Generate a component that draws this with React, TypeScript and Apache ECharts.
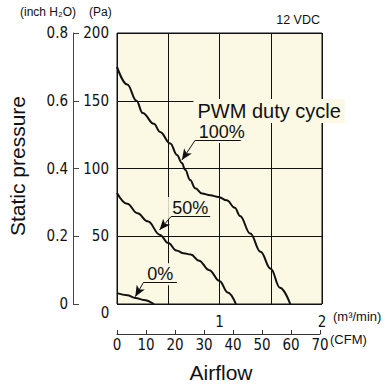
import React, { useEffect, useRef } from "react";
import * as echarts from "echarts";

// Airflow in m³/min, static pressure in Pa
const duty100: [number, number][] = [
  [0, 175], [0.1, 162], [0.19, 150], [0.25, 141], [0.36, 133], [0.42, 127],
  [0.52, 118.5], [0.585, 110], [0.633, 104], [0.665, 99], [0.714, 91.5],
  [0.763, 85.5], [0.83, 81.5], [0.91, 80.3], [0.99, 79], [1.07, 76.5],
  [1.15, 71], [1.2, 65], [1.3, 52], [1.4, 38.5], [1.5, 26], [1.59, 12], [1.69, 0],
];
const duty50: [number, number][] = [
  [0, 82], [0.1, 74], [0.2, 67], [0.3, 61], [0.42, 51], [0.5, 45], [0.58, 39.5],
  [0.65, 37.5], [0.72, 36.5], [0.8, 32], [0.9, 25], [1.0, 17], [1.08, 8.5], [1.16, 0],
];
const duty0: [number, number][] = [
  [0, 8], [0.1, 6.5], [0.18, 4.5], [0.26, 3], [0.36, 0],
];

const paTicks = { min: 0, max: 200, interval: 50 };
const inchTicks = { min: 0, max: 0.8, interval: 0.2 };
const m3Ticks = { min: 0, max: 2, interval: 0.5 };
const cfmTicks = { min: 0, max: 70, interval: 10 };
const m3Labels = [1, 2];

const labels = {
  pwm: "PWM duty cycle",
  d100: "100%",
  d50: "50%",
  d0: "0%",
};

const BG = "#FBF8E4";
const INK = "#111111";
const NARROW = '"Liberation Sans Narrow", "DejaVu Sans Condensed", "Roboto Condensed", sans-serif';
const SANS = '"Liberation Sans", Arial, Helvetica, sans-serif';
const TICK = 15;

export default function App() {
  const ref = useRef<HTMLDivElement>(null);
  useEffect(() => {
    if (!ref.current) return;
    const chart = echarts.init(ref.current, undefined, { renderer: "svg" });
    const labelBox = (size: number) => ({
      show: true,
      color: INK,
      fontFamily: SANS,
      fontSize: size,
      lineHeight: size,
      backgroundColor: BG,
      padding: [3, 4, 1, 4],
    });
    const option: any = {
      animation: false,
      grid: [
        {
          left: 117, top: 33, width: 205, height: 271,
          show: true, backgroundColor: BG, borderColor: INK, borderWidth: 1,
        },
        { left: 117, top: 333, width: 203, height: 1, show: false },
      ],
      xAxis: [
        {
          gridIndex: 0, type: "value", ...m3Ticks,
          axisLine: { show: false }, axisTick: { show: false },
          splitLine: { show: true, lineStyle: { color: INK, width: 1 } },
          axisLabel: {
            formatter: (v: number) => (m3Labels.includes(v) ? String(v) : ""),
            margin: 10, fontSize: TICK, fontFamily: NARROW, color: INK,
          },
        },
        {
          gridIndex: 1, type: "value", ...cfmTicks,
          axisLine: { show: true, lineStyle: { color: "#333", width: 1 } },
          axisTick: { show: true, inside: true, length: 4, lineStyle: { color: "#333" } },
          splitLine: { show: false },
          axisLabel: { margin: 3, fontSize: TICK, fontFamily: NARROW, color: INK },
        },
      ],
      yAxis: [
        {
          gridIndex: 0, type: "value", ...paTicks,
          axisLine: { show: false }, axisTick: { show: false },
          splitLine: { show: true, lineStyle: { color: INK, width: 1 } },
          axisLabel: {
            formatter: (v: number) => (v === 0 ? "" : String(v)),
            margin: 8, fontSize: TICK, fontFamily: NARROW, color: INK,
          },
        },
        {
          gridIndex: 0, type: "value", position: "left", offset: 44, ...inchTicks,
          axisLine: { show: true, lineStyle: { color: "#444", width: 1 } },
          axisTick: { show: true, inside: true, length: 6, lineStyle: { color: "#444" } },
          splitLine: { show: false },
          axisLabel: {
            formatter: (v: number) => (v === 0 ? "0" : v.toFixed(1)),
            margin: 5, fontSize: TICK, fontFamily: NARROW, color: INK,
          },
        },
        { gridIndex: 1, type: "value", show: false },
      ],
      series: [
        {
          type: "line", data: duty100, xAxisIndex: 0, yAxisIndex: 0,
          showSymbol: false, symbol: "none", smooth: 0.4, smoothMonotone: "x",
          lineStyle: { color: INK, width: 2 }, silent: true, z: 3,
        },
        {
          type: "line", data: duty50, xAxisIndex: 0, yAxisIndex: 0,
          showSymbol: false, symbol: "none", smooth: 0.4, smoothMonotone: "x",
          lineStyle: { color: INK, width: 2 }, silent: true, z: 3,
        },
        {
          type: "line", data: duty0, xAxisIndex: 0, yAxisIndex: 0,
          showSymbol: false, symbol: "none", smooth: 0.4, smoothMonotone: "x",
          lineStyle: { color: INK, width: 2 }, silent: true, z: 3,
        },
        {
          type: "line", data: [], xAxisIndex: 0, yAxisIndex: 0, silent: true,
          markPoint: {
            silent: true, z: 4,
            symbol: "circle", symbolSize: 0,
            data: [
              { coord: [0.746, 142.5], label: { ...labelBox(20), position: "right", distance: 0, formatter: labels.pwm } },
              { coord: [1.023, 127.0], label: { ...labelBox(18), position: "inside", formatter: labels.d100 } },
              { coord: [0.714, 70.8], label: { ...labelBox(18), position: "inside", formatter: labels.d50 } },
              { coord: [0.422, 22.0], label: { ...labelBox(18), position: "inside", formatter: labels.d0 } },
            ],
          },
          markLine: {
            silent: true, z: 6,
            symbol: ["none", "none"],
            label: { show: false },
            lineStyle: { color: INK, width: 1, type: "solid" },
            emphasis: { disabled: true },
            data: [
              [{ coord: [0.763, 120.9] }, { coord: [1.208, 120.9] }],
              [{ coord: [0.763, 120.9], symbol: "none" }, { coord: [0.633, 106.2], symbol: "arrow", symbolSize: [7, 11] }],
              [{ coord: [0.526, 64.4] }, { coord: [0.909, 64.4] }],
              [{ coord: [0.526, 64.4], symbol: "none" }, { coord: [0.415, 54.6], symbol: "arrow", symbolSize: [7, 11] }],
              [{ coord: [0.259, 16.0] }, { coord: [0.585, 16.0] }],
              [{ coord: [0.259, 16.0], symbol: "none" }, { coord: [0.178, 5.4], symbol: "arrow", symbolSize: [7, 11] }],
            ],
          },
        },
      ],
      graphic: [
        { type: "text", left: 20, top: 6, style: { text: "(inch H₂O)", fontSize: 12, fontFamily: SANS, fill: INK } },
        { type: "text", left: 89, top: 6, style: { text: "(Pa)", fontSize: 12, fontFamily: SANS, fill: INK } },
        { type: "text", right: 65, top: 13, style: { text: "12 VDC", fontSize: 12.5, fontFamily: SANS, fill: INK } },
        {
          type: "text", x: 17.5, y: 166, rotation: Math.PI / 2,
          style: { text: "Static pressure", fontSize: 21, fontFamily: SANS, fill: INK, align: "center", verticalAlign: "middle" },
        },
        {
          type: "text", x: 221, y: 372,
          style: { text: "Airflow", fontSize: 21, fontFamily: SANS, fill: INK, align: "center", verticalAlign: "middle" },
        },
        {
          type: "text", x: 333, y: 316.7,
          style: { text: "(m³/min)", fontSize: 13, fontFamily: SANS, fill: INK, align: "left", verticalAlign: "middle" },
        },
        {
          type: "text", x: 330, y: 339,
          style: { text: "(CFM)", fontSize: 13, fontFamily: SANS, fill: INK, align: "left", verticalAlign: "middle" },
        },
        {
          type: "text", x: 105, y: 313,
          style: { text: "0", fontSize: TICK, fontFamily: NARROW, fill: INK, align: "center", verticalAlign: "middle" },
        },
      ],
    };
    chart.setOption(option);
    return () => chart.dispose();
  }, []);
  return <div ref={ref} style={{ width: 385, height: 387, position: "absolute", left: 0, top: 0 }} />;
}
